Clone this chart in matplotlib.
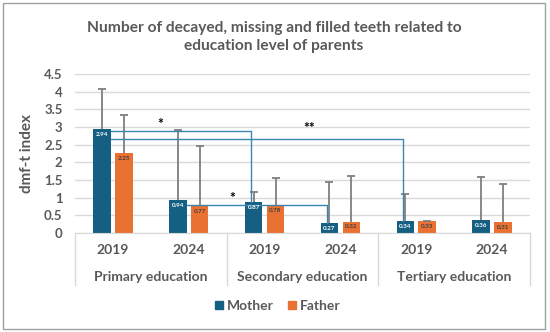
import numpy as np
import matplotlib
matplotlib.use("Agg")
import matplotlib.pyplot as plt
from matplotlib.patches import Rectangle
from matplotlib.lines import Line2D

plt.rcParams["font.family"] = ["Lato", "DejaVu Sans"]

# data
years = ["2019", "2024", "2019", "2024", "2019", "2024"]
levels = ["Primary education", "Secondary education", "Tertiary education"]
mother = [2.94, 0.94, 0.87, 0.27, 0.34, 0.36]
father = [2.25, 0.77, 0.78, 0.32, 0.33, 0.31]
mother_err = [1.13, 1.98, 0.29, 1.16, 0.76, 1.22]
father_err = [1.10, 1.69, 0.78, 1.30, 0.01, 1.09]

# significance brackets: (from bar, to bar, height, label, label x, label lift)
brackets = [
    (0, 2, 2.88, "*", 0.63, 0.04),
    (0, 4, 2.67, "**", 2.59, 0.14),
    (1, 3, 0.79, "*", 1.57, 0.04),
]

c_mother = "#156082"
c_father = "#E97132"
c_text = "#595959"
c_grid = "#d9d9d9"
c_bracket = "#3b86ae"

fig = plt.figure(figsize=(5.5, 3.32), dpi=100)
ax = fig.add_axes([75 / 550, 1 - 233 / 332, 455 / 550, 159 / 332])

x = np.arange(len(years))
w = 0.23
off = 0.144
xm = x - off
xf = x + off

ax.bar(xm, mother, w, color=c_mother, zorder=2)
ax.bar(xf, father, w, color=c_father, zorder=2)

for xs, vals, errs in [(xm, mother, mother_err), (xf, father, father_err)]:
    _, caps, _ = ax.errorbar(xs, vals, yerr=[np.zeros(len(vals)), errs], fmt="none",
                             ecolor="#7f7f7f", elinewidth=1.3, capsize=3,
                             capthick=1.3, zorder=3)
    caps[0].set_visible(False)

for xs, vals, col in [(xm, mother, "white"), (xf, father, "#404040")]:
    for xi, v in zip(xs, vals):
        ax.text(xi, v - 0.15, f"{v:.2f}", ha="center", va="center",
                fontsize=4.5, fontweight="bold", color=col, zorder=5)

for a, b, h, lab, lx, lift in brackets:
    x0 = xm[a] + w / 2
    x1 = xm[b] - 0.03
    ax.plot([x0, x1, x1], [h, h, mother[b]], color=c_bracket, lw=1.0, zorder=4)
    ax.text(lx, h + lift, lab, ha="center", va="bottom", fontsize=10,
            fontweight="bold", color="black")

ax.set_xlim(-0.5, 5.5)
ax.set_ylim(0, 4.5)
ax.set_yticks(np.arange(0, 4.51, 0.5))
ax.set_yticklabels([f"{t:g}" for t in np.arange(0, 4.51, 0.5)])
ax.tick_params(axis="y", length=0, pad=9, labelsize=9.5, labelcolor=c_text)
for lbl in ax.get_yticklabels():
    lbl.set_fontweight("bold")
ax.set_xticks([])
ax.grid(axis="y", color=c_grid, lw=1, zorder=0)
for s in ["top", "right", "left"]:
    ax.spines[s].set_visible(False)
ax.spines["bottom"].set_color(c_grid)

ax.set_ylabel("dmf-t index", fontsize=11, fontweight="bold", color=c_text, labelpad=7)

# two-level category axis
tr = ax.get_xaxis_transform()
for xb in [-0.5, 1.5, 3.5, 5.5]:
    ax.add_line(Line2D([xb, xb], [0, -0.327], transform=tr, color=c_grid,
                       lw=1, clip_on=False))
for xi, yr in zip(x, years):
    ax.text(xi, -0.107, yr, transform=tr, ha="center", va="center",
            fontsize=10, fontweight="bold", color=c_text)
for i, lv in enumerate(levels):
    ax.text(2 * i + 0.5, -0.275, lv, transform=tr, ha="center", va="center",
            fontsize=10, fontweight="bold", color=c_text)

fig.text(274 / 550, 1 - 37 / 332,
         "Number of decayed, missing and filled teeth related to\neducation level of parents",
         ha="center", va="center", fontsize=11.2, fontweight="bold", color=c_text,
         linespacing=1.4)

handles = [Line2D([], [], marker="s", ls="", color=c_mother, markersize=6),
           Line2D([], [], marker="s", ls="", color=c_father, markersize=6)]
fig.legend(handles, ["Mother", "Father"], loc="center", bbox_to_anchor=(277 / 550, 1 - 306 / 332),
           ncol=2, frameon=False, handlelength=0.8, handletextpad=0.2, columnspacing=0.9,
           prop={"size": 10, "weight": "bold"}, labelcolor=c_text)

fig.patches.append(Rectangle((3 / 550, 3 / 332), 542 / 550, 326 / 332, transform=fig.transFigure,
                             fill=False, edgecolor="#a0a0a0", lw=1))

fig.savefig("out.png", dpi=100)
